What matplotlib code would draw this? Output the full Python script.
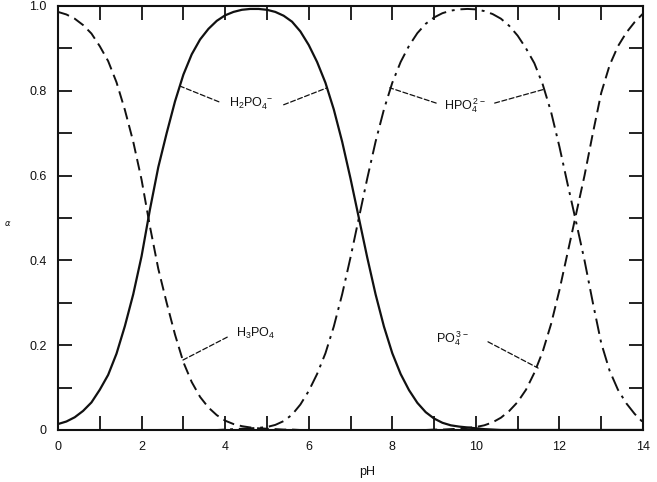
import matplotlib
matplotlib.use("Agg")
import matplotlib.pyplot as plt
from matplotlib.ticker import MultipleLocator, FixedLocator, FixedFormatter

plt.rcParams['font.family'] = ['Liberation Sans', 'DejaVu Sans']
plt.rcParams['mathtext.fontset'] = 'custom'
plt.rcParams['mathtext.rm'] = 'Liberation Sans'

# pH grid (every 0.2 units)
pH = [0.0, 0.2, 0.4, 0.6, 0.8, 1.0, 1.2, 1.4, 1.6, 1.8,
      2.0, 2.2, 2.4, 2.6, 2.8, 3.0, 3.2, 3.4, 3.6, 3.8,
      4.0, 4.2, 4.4, 4.6, 4.8, 5.0, 5.2, 5.4, 5.6, 5.8,
      6.0, 6.2, 6.4, 6.6, 6.8, 7.0, 7.2, 7.4, 7.6, 7.8,
      8.0, 8.2, 8.4, 8.6, 8.8, 9.0, 9.2, 9.4, 9.6, 9.8,
      10.0, 10.2, 10.4, 10.6, 10.8, 11.0, 11.2, 11.4, 11.6, 11.8,
      12.0, 12.2, 12.4, 12.6, 12.8, 13.0, 13.2, 13.4, 13.6, 13.8,
      14.0]

h3po4 = [0.986, 0.980, 0.970, 0.955, 0.935, 0.905, 0.870, 0.820, 0.755, 0.680,
         0.590, 0.480, 0.380, 0.300, 0.225, 0.160, 0.113, 0.078, 0.053, 0.035,
         0.022, 0.014, 0.009, 0.006, 0.004, 0.003, 0.002, 0.001, 0.001, 0,
         0, 0, 0, 0, 0, 0, 0, 0, 0, 0,
         0, 0, 0, 0, 0, 0, 0, 0, 0, 0,
         0, 0, 0, 0, 0, 0, 0, 0, 0, 0,
         0, 0, 0, 0, 0, 0, 0, 0, 0, 0,
         0]

h2po4 = [0.014, 0.020, 0.030, 0.045, 0.065, 0.095, 0.130, 0.180, 0.245, 0.320,
         0.410, 0.520, 0.620, 0.700, 0.775, 0.838, 0.886, 0.921, 0.946, 0.965,
         0.978, 0.986, 0.991, 0.993, 0.993, 0.991, 0.986, 0.977, 0.963, 0.940,
         0.908, 0.868, 0.819, 0.756, 0.680, 0.593, 0.500, 0.407, 0.320, 0.244,
         0.181, 0.132, 0.094, 0.064, 0.042, 0.027, 0.017, 0.011, 0.008, 0.006,
         0.004, 0.002, 0.001, 0, 0, 0, 0, 0, 0, 0,
         0, 0, 0, 0, 0, 0, 0, 0, 0, 0,
         0]

hpo4 = [0, 0, 0, 0, 0, 0, 0, 0, 0, 0,
        0, 0, 0, 0, 0, 0, 0, 0, 0, 0,
        0.001, 0.002, 0.003, 0.004, 0.005, 0.007, 0.012, 0.021, 0.036, 0.060,
        0.092, 0.132, 0.181, 0.244, 0.320, 0.407, 0.500, 0.593, 0.680, 0.756,
        0.819, 0.868, 0.906, 0.936, 0.958, 0.973, 0.983, 0.989, 0.992, 0.993,
        0.992, 0.988, 0.981, 0.970, 0.953, 0.930, 0.900, 0.865, 0.815, 0.750,
        0.668, 0.578, 0.490, 0.400, 0.300, 0.205, 0.140, 0.095, 0.063, 0.038,
        0.018]

po4 = [0, 0, 0, 0, 0, 0, 0, 0, 0, 0,
       0, 0, 0, 0, 0, 0, 0, 0, 0, 0,
       0, 0, 0, 0, 0, 0, 0, 0, 0, 0,
       0, 0, 0, 0, 0, 0, 0, 0, 0, 0,
       0, 0, 0, 0, 0, 0.001, 0.001, 0.002, 0.003, 0.005,
       0.007, 0.011, 0.018, 0.029, 0.045, 0.066, 0.095, 0.135, 0.185, 0.250,
       0.330, 0.420, 0.510, 0.600, 0.700, 0.795, 0.860, 0.905, 0.937, 0.962,
       0.982]

x_ticks = [0, 2, 4, 6, 8, 10, 12, 14]
y_ticks = [0, 0.2, 0.4, 0.6, 0.8, 1.0]
y_tick_labels = ['0', '0.2', '0.4', '0.6', '0.8', '1.0']

species_labels = [r'$\mathregular{H_2PO_4^{\ -}}$', r'$\mathregular{HPO_4^{\,2-}}$',
                  r'$\mathregular{H_3PO_4}$', r'$\mathregular{PO_4^{\,3-}}$']
label_pos = [(4.62, 0.769), (9.74, 0.764), (4.72, 0.228), (9.45, 0.216)]
# leader lines: (start, end) in data units
leaders = [((3.85, 0.774), (2.92, 0.811)), ((5.40, 0.767), (6.44, 0.807)),
           ((9.05, 0.771), (7.94, 0.807)), ((10.45, 0.771), (11.65, 0.804)),
           ((4.05, 0.219), (2.99, 0.165)), ((10.29, 0.208), (11.49, 0.146))]

fig = plt.figure(figsize=(6.57, 4.82), dpi=100)
ax = fig.add_axes([0.0883, 0.1079, 0.8904, 0.8797])

ink = '#111111'
ax.plot(pH, h3po4, color=ink, lw=1.4, linestyle=(0, (6, 3)))
ax.plot(pH, h2po4, color=ink, lw=1.6, linestyle='-')
ax.plot(pH, hpo4, color=ink, lw=1.4, linestyle=(0, (8, 3, 1.5, 3)))
ax.plot(pH, po4, color=ink, lw=1.4, linestyle=(0, (6, 3)))

for text, (x, y) in zip(species_labels, label_pos):
    ax.text(x, y, text, ha='center', va='center', fontsize=9, color=ink)

for start, end in leaders:
    ax.annotate('', xy=end, xytext=start,
                arrowprops=dict(arrowstyle='-', color=ink, lw=0.9,
                                linestyle=(0, (4, 2)), shrinkA=0, shrinkB=0))

ax.set_xlim(0, 14)
ax.set_ylim(0, 1.0)
ax.xaxis.set_major_locator(FixedLocator(x_ticks))
ax.xaxis.set_minor_locator(MultipleLocator(1))
ax.yaxis.set_major_locator(FixedLocator(y_ticks))
ax.yaxis.set_major_formatter(FixedFormatter(y_tick_labels))
ax.yaxis.set_minor_locator(MultipleLocator(0.1))
ax.tick_params(which='both', direction='in', length=10, width=1.3,
               top=True, right=True, color=ink)
ax.tick_params(which='major', labelsize=9, pad=8, labelcolor=ink)
for s in ax.spines.values():
    s.set_linewidth(1.5)
    s.set_color(ink)

ax.set_xlabel('pH', fontsize=9, color=ink)
ax.xaxis.set_label_coords((368 - 58) / 587, -0.085)
fig.text(4 / 657, 1 - 223 / 482, r'$\alpha$', fontsize=6, color=ink, va='center')

fig.savefig('out.png', dpi=100)
